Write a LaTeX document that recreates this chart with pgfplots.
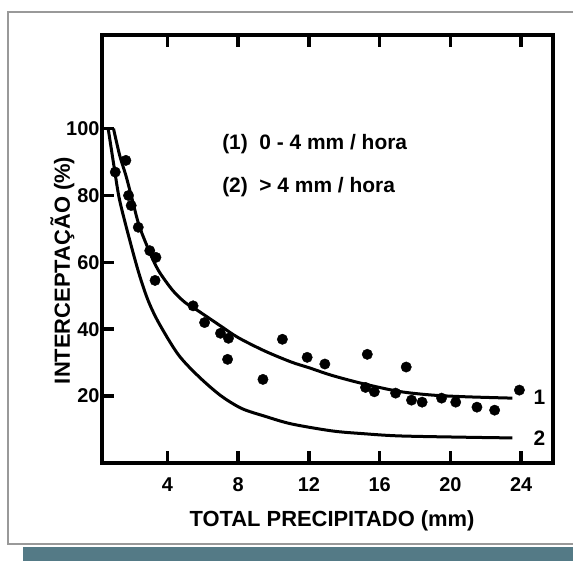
\documentclass[border=0pt]{standalone}
\usepackage{fontspec}
\setmainfont{Liberation Sans}
\usepackage{pgfplots}
\pgfplotsset{compat=1.18}
\definecolor{shadowc}{RGB}{84,122,134}
\begin{document}
\begin{tikzpicture}
\useasboundingbox (0bp,0bp) rectangle (573bp,561bp);
\fill[white] (0bp,0bp) rectangle (573bp,561bp);
\fill[shadowc] (23bp,0bp) rectangle (573bp,14bp);
\draw[black!40, line width=1.2bp] (573bp,549bp) -- (8bp,549bp) -- (8bp,17bp) -- (573bp,17bp);
\begin{axis}[
  at={(102bp,98bp)}, anchor=south west,
  scale only axis, width=451bp, height=428bp,
  xmin=0.3, xmax=25.8, ymin=0, ymax=128,
  xtick={4,8,12,16,20,24}, ytick={20,40,60,80,100},
  ytick pos=left,
  tick align=inside,
  major tick length=12bp,
  axis line style={line width=3.5bp},
  major tick style={black, line width=3.5bp},
  font=\fontsize{20}{24}\selectfont\bfseries,
  /pgf/number format/assume math mode=true,
  xticklabel style={yshift=-11bp},
  yticklabel style={xshift=1bp},
  xlabel={TOTAL PRECIPITADO (mm)},
  ylabel={INTERCEPTAÇÃO (\%)},
  xlabel style={at={(axis description cs:0.51,-0.135)}, anchor=center, font=\fontsize{22}{26}\selectfont\bfseries},
  ylabel style={at={(axis description cs:-0.088,0.45)}, anchor=center, font=\fontsize{22}{26}\selectfont\bfseries},
  clip=false,
]
% curve 1 (0-4 mm/hora)
\addplot[black, line width=3bp, smooth, tension=0.5] coordinates {
(0.95,100) (1.3,92) (1.65,86) (2.0,79) (2.4,71) (3.0,63) (3.5,57.5) (4.3,51.6) (5.0,48) (5.74,45.5) (7,41) (8,37.5) (9.5,33.5) (11,30.2) (12,28.5) (13.3,26.2) (15,23.8) (17.1,21.4) (19,20.3) (20.9,19.8) (23.5,19.4)
};
% curve 2 (>4 mm/hora)
\addplot[black, line width=3bp, smooth, tension=0.5] coordinates {
(0.65,100) (1.0,88) (1.3,78.5) (1.9,66) (2.4,56.5) (2.9,48.7) (3.5,42) (4.6,32.5) (5.74,26) (7,20.2) (8.2,16.3) (9.5,14) (11,11.7) (13.3,9.6) (15,8.8) (17.1,8.1) (20.9,7.7) (23.5,7.5)
};
% observed points
\addplot[only marks, mark=*, mark size=5.2bp, black] coordinates {
(1.05,87) (1.65,90.5) (1.8,80) (1.95,77) (2.35,70.5) (3.0,63.5) (3.35,61.5) (3.3,54.6) (5.45,47) (6.1,42) (7.0,38.8) (7.45,37.3) (7.4,31) (9.4,25) (10.5,37) (11.9,31.6) (12.9,29.6) (15.3,32.5) (15.2,22.6) (15.7,21.3) (16.9,20.9) (17.5,28.7) (17.8,18.8) (18.4,18.2) (19.5,19.4) (20.3,18.2) (21.5,16.7) (22.5,15.8) (23.9,21.8)
};
% tick marks (inward)
\draw[line width=3.5bp] (axis cs:4,0) -- ([yshift=12bp]axis cs:4,0);
\draw[line width=3.5bp] (axis cs:8,0) -- ([yshift=12bp]axis cs:8,0);
\draw[line width=3.5bp] (axis cs:12,0) -- ([yshift=12bp]axis cs:12,0);
\draw[line width=3.5bp] (axis cs:16,0) -- ([yshift=12bp]axis cs:16,0);
\draw[line width=3.5bp] (axis cs:20,0) -- ([yshift=12bp]axis cs:20,0);
\draw[line width=3.5bp] (axis cs:24,0) -- ([yshift=12bp]axis cs:24,0);
\draw[line width=3.5bp] (axis cs:4,128) -- ([yshift=-12bp]axis cs:4,128);
\draw[line width=3.5bp] (axis cs:8,128) -- ([yshift=-12bp]axis cs:8,128);
\draw[line width=3.5bp] (axis cs:12,128) -- ([yshift=-12bp]axis cs:12,128);
\draw[line width=3.5bp] (axis cs:16,128) -- ([yshift=-12bp]axis cs:16,128);
\draw[line width=3.5bp] (axis cs:20,128) -- ([yshift=-12bp]axis cs:20,128);
\draw[line width=3.5bp] (axis cs:24,128) -- ([yshift=-12bp]axis cs:24,128);
\draw[line width=3.5bp] (axis cs:0.3,20) -- ([xshift=12bp]axis cs:0.3,20);
\draw[line width=3.5bp] (axis cs:0.3,40) -- ([xshift=12bp]axis cs:0.3,40);
\draw[line width=3.5bp] (axis cs:0.3,60) -- ([xshift=12bp]axis cs:0.3,60);
\draw[line width=3.5bp] (axis cs:0.3,80) -- ([xshift=12bp]axis cs:0.3,80);
\draw[line width=3.5bp] (axis cs:0.3,100) -- ([xshift=12bp]axis cs:0.3,100);
\node[anchor=west, font=\fontsize{21}{24}\selectfont\bfseries] at (axis cs:24.5,19.7) {1};
\node[anchor=west, font=\fontsize{21}{24}\selectfont\bfseries] at (axis cs:24.5,7.5) {2};
\node[anchor=west, font=\fontsize{21}{24}\selectfont\bfseries] at (axis cs:6.9,95.5) {(1)\ \ 0 - 4 mm / hora};
\node[anchor=west, font=\fontsize{21}{24}\selectfont\bfseries] at (axis cs:6.9,82.4) {(2)\ \ > 4 mm / hora};
\end{axis}
\end{tikzpicture}
\end{document}
